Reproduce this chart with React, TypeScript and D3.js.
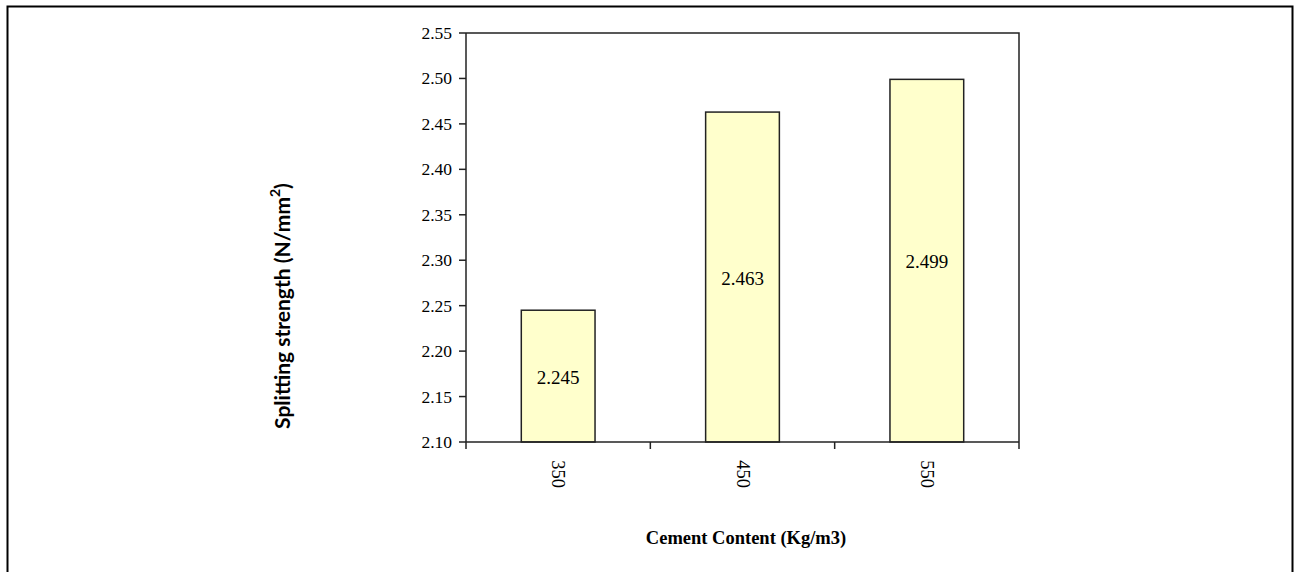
import React from "react";
import * as d3 from "d3";

const categories = ["350", "450", "550"];
const values = [2.245, 2.463, 2.499];
const yTicks = [2.1, 2.15, 2.2, 2.25, 2.3, 2.35, 2.4, 2.45, 2.5, 2.55];
const valueLabels = ["2.245", "2.463", "2.499"];

export default function App() {
  const W = 1295, H = 572;
  const left = 466, right = 1019, top = 33, bottom = 442;
  const x = d3.scaleBand<string>().domain(categories).range([left, right]).paddingInner(0).paddingOuter(0);
  const y = d3.scaleLinear().domain([2.1, 2.55]).range([bottom, top]);
  const bw = x.bandwidth() * 0.4;
  const serif = "Liberation Serif";
  const sans = "Lato";
  return (
    <svg width={W} height={H} style={{ position: "absolute", left: 0, top: 0 }}>
      <rect x={0} y={0} width={W} height={H} fill="#fff" />
      <path d={`M7.5,${H} V6.5 H1292.5 V${H}`} fill="none" stroke="#000" strokeWidth={2} />
      <path d={`M${left},${top} H${right} V${bottom}`} fill="none" stroke="#222" strokeWidth={1.5} />
      {categories.map((c, i) => {
        const cx = (x(c) as number) + x.bandwidth() / 2;
        const y0 = y(values[i]);
        return (
          <g key={c}>
            <rect x={cx - bw / 2} y={y0} width={bw} height={bottom - y0} fill="#FFFFCC" stroke="#222" strokeWidth={1.5} />
            <text x={cx} y={(y0 + bottom) / 2 + 1} textAnchor="middle" dominantBaseline="central" fontFamily={serif} fontSize={19} fill="#000">
              {valueLabels[i]}
            </text>
            <text transform={`translate(${cx},474) rotate(90)`} textAnchor="middle" dominantBaseline="central" fontFamily={serif} fontSize={18.5} fill="#000">
              {c}
            </text>
          </g>
        );
      })}
      <line x1={left} x2={left} y1={top} y2={bottom} stroke="#222" strokeWidth={1.5} />
      {yTicks.map((t) => (
        <g key={t}>
          <line x1={left - 7} x2={left} y1={y(t)} y2={y(t)} stroke="#222" strokeWidth={1.5} />
          <text x={452} y={y(t)} textAnchor="end" dominantBaseline="central" fontFamily={serif} fontSize={17.5} fill="#000">
            {t.toFixed(2)}
          </text>
        </g>
      ))}
      <line x1={left} x2={right} y1={bottom} y2={bottom} stroke="#222" strokeWidth={1.5} />
      {[...categories.map((c) => x(c) as number), right].map((tx, i) => (
        <line key={i} x1={tx} x2={tx} y1={bottom} y2={bottom + 7} stroke="#222" strokeWidth={1.5} />
      ))}
      <text x={746} y={538} textAnchor="middle" dominantBaseline="central" fontFamily={serif} fontWeight="bold" fontSize={18.5} fill="#000">
        Cement Content (Kg/m3)
      </text>
      <text transform="translate(281,306) rotate(-90)" textAnchor="middle" dominantBaseline="central" fontFamily={sans} fontWeight="bold" fontSize={21} fill="#000">
        Splitting strength (N/mm<tspan dy={-7} fontSize={14}>2</tspan><tspan dy={7}>)</tspan>
      </text>
    </svg>
  );
}
